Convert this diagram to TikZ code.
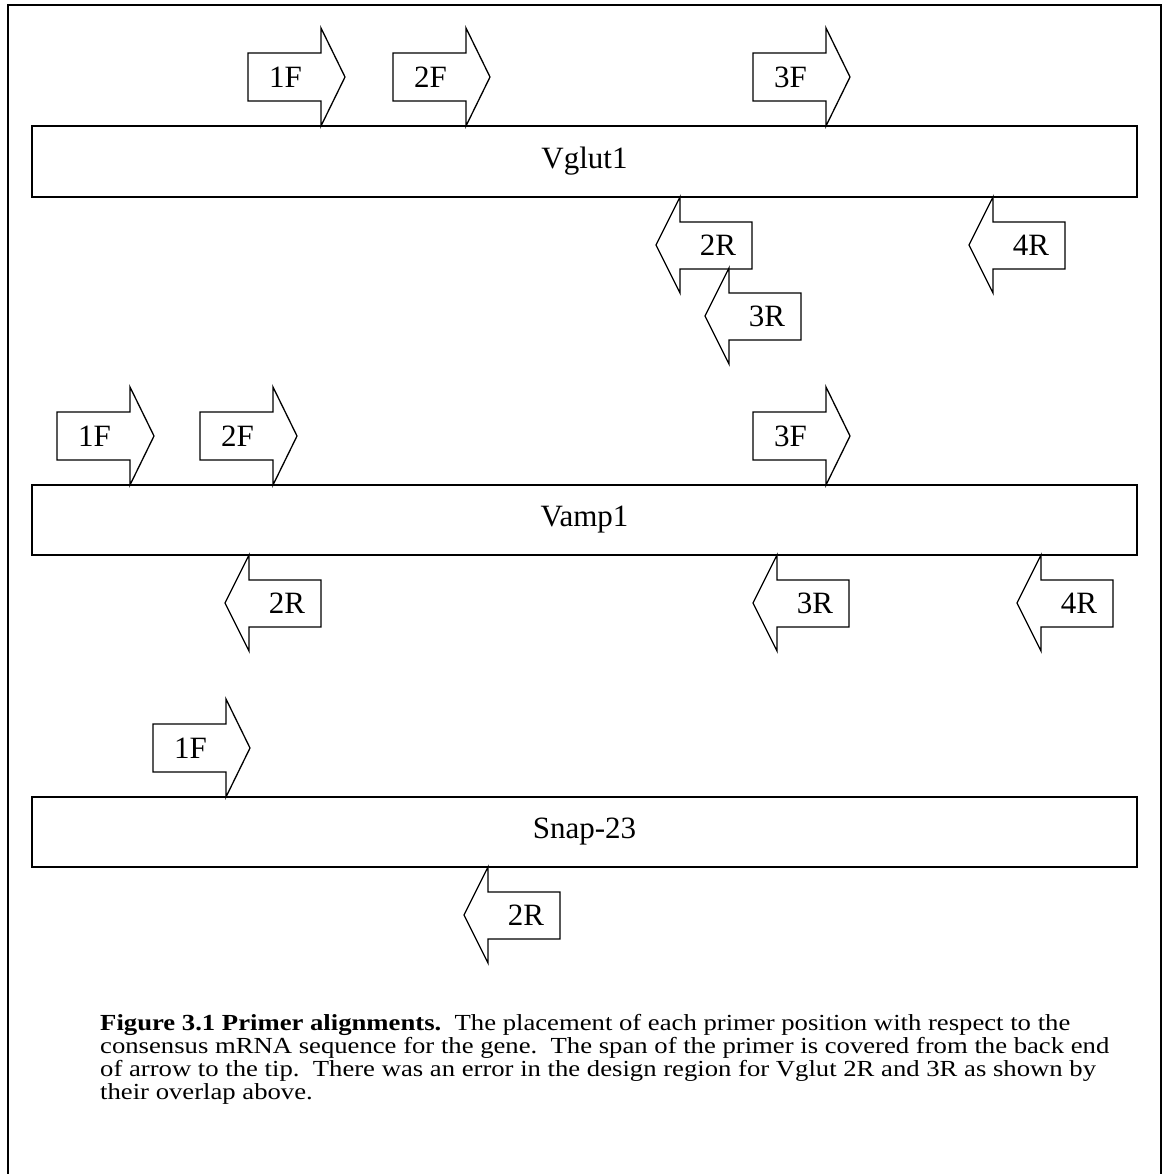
\documentclass[tikz,border=0pt]{standalone}
\usepackage{fontspec}
\usepackage{graphicx}
\setmainfont{Liberation Serif}
\tikzset{
  primer/.style={draw=black, line width=1.3pt, line join=miter, fill=white},
  genebar/.style={draw=black, line width=1.5pt, fill=white},
  plabel/.style={font=\fontsize{31}{36}\selectfont, inner sep=0pt},
  caption/.style={font=\fontsize{23}{23}\selectfont, inner sep=0pt, anchor=base west},
}
\newcommand\capline[1]{\scalebox{1.16}[1]{#1}}
% forward primer: #1 name, #2 body left x, #3 bar top y, #4 label
\newcommand\fwdprimer[4]{%
  \draw[primer] ({#2},{#3-25}) -- ({#2+73},{#3-25}) -- ({#2+73},{#3}) -- ({#2+97},{#3-49})
     -- ({#2+73},{#3-98}) -- ({#2+73},{#3-73}) -- ({#2},{#3-73}) -- cycle;
  \node[plabel] (#1) at ({#2+37.5},{#3-49}) {#4};}
% reverse primer: #1 name, #2 body right x, #3 head top y, #4 label
\newcommand\revprimer[4]{%
  \draw[primer] ({#2},{#3+25}) -- ({#2-72},{#3+25}) -- ({#2-72},{#3}) -- ({#2-96},{#3+48})
     -- ({#2-72},{#3+96}) -- ({#2-72},{#3+72}) -- ({#2},{#3+72}) -- cycle;
  \node[plabel] (#1) at ({#2-34},{#3+48}) {#4};}
\begin{document}
\begin{tikzpicture}[x=1pt,y=-1pt]
\useasboundingbox (0,0) rectangle (1165,1174);
\begin{scope}
\clip (0,0) rectangle (1165,1174);
\draw[line width=2pt] (8,5) rectangle (1161,1200);
\end{scope}

% Vglut1
\node[genebar, minimum width=1105pt, minimum height=71pt, inner sep=0pt] (vglut) at (584.5,161.5) {};
\node[plabel] (vglutlbl) at (vglut.center) {Vglut1};
\fwdprimer{vg1F}{248}{126}{1F}
\fwdprimer{vg2F}{393}{126}{2F}
\fwdprimer{vg3F}{753}{126}{3F}
\revprimer{vg2R}{752}{197}{2R}
\revprimer{vg3R}{801}{268}{3R}
\revprimer{vg4R}{1065}{197}{4R}

% Vamp1
\node[genebar, minimum width=1105pt, minimum height=70pt, inner sep=0pt] (vamp) at (584.5,520) {};
\node[plabel] (vamplbl) at (vamp.center) {Vamp1};
\fwdprimer{va1F}{57}{485}{1F}
\fwdprimer{va2F}{200}{485}{2F}
\fwdprimer{va3F}{753}{485}{3F}
\revprimer{va2R}{321}{555}{2R}
\revprimer{va3R}{849}{555}{3R}
\revprimer{va4R}{1113}{555}{4R}

% Snap-23
\node[genebar, minimum width=1105pt, minimum height=70pt, inner sep=0pt] (snap) at (584.5,832) {};
\node[plabel] (snaplbl) at (snap.center) {Snap-23};
\fwdprimer{sn1F}{153}{797}{1F}
\revprimer{sn2R}{560}{867}{2R}

% caption
\node[caption] (cap1) at (100,1030) {\capline{\textbf{Figure 3.1 Primer alignments.}\ \ The placement of each primer position with respect to the}};
\node[caption] (cap2) at (100,1053) {\capline{consensus mRNA sequence for the gene.\ \ The span of the primer is covered from the back end}};
\node[caption] (cap3) at (100,1076) {\capline{of arrow to the tip.\ \ There was an error in the design region for Vglut 2R and 3R as shown by}};
\node[caption] (cap4) at (100,1099) {\capline{their overlap above.}};
\end{tikzpicture}
\end{document}
